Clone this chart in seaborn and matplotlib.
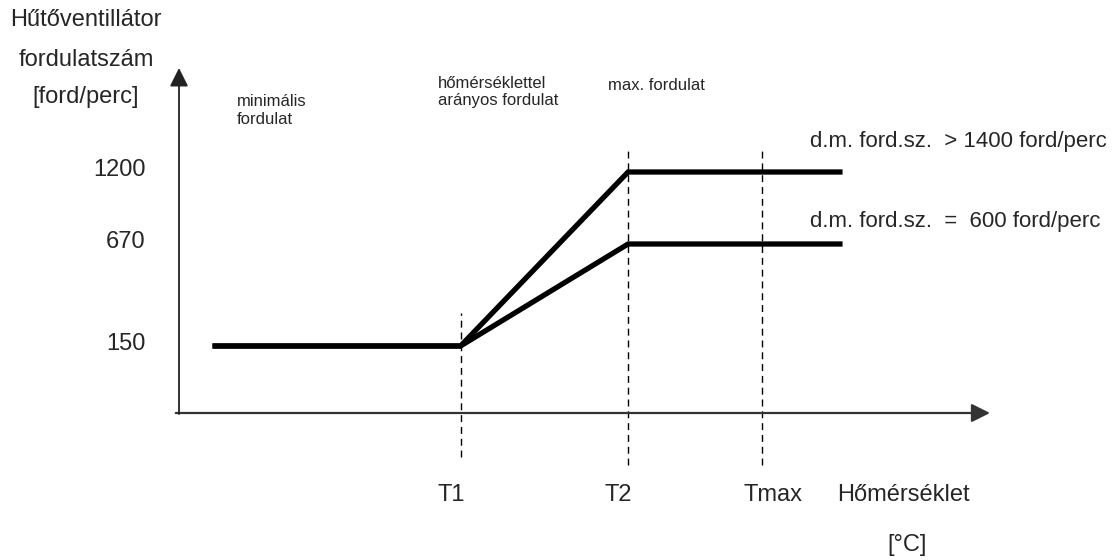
### schematic: cooling fan speed vs. coolant temperature

import matplotlib
matplotlib.use('Agg')
import matplotlib.pyplot as plt
import matplotlib.transforms as mtransforms
import numpy as np
import pandas as pd
import seaborn as sns

# schematic temperature positions (arbitrary units, origin at the y axis)
temps = [0.5, 4.2, 6.7, 9.9]           # start, T1, T2, end of curves
t_marks = {'T1': 4.2, 'T2': 6.7, 'Tmax': 8.7}
x_axis_end = 12.1

# fan speed [ford/perc] at each temperature point
speed_high = [150, 150, 1200, 1200]    # d.m. ford.sz. > 1400
speed_low = [150, 150, 670, 670]       # d.m. ford.sz. = 600
y_ticks = [150, 670, 1200]
y_top = 1500

# the drawing is not to scale: piecewise mapping of rpm to drawn height
scale_in = [0, 150, 670, 1200, 1500]
scale_out = [0, 67, 169, 241, 345]
def fwd(v):
    return np.interp(v, scale_in, scale_out)
def inv(v):
    return np.interp(v, scale_out, scale_in)

sns.set_style('white')
plt.rcParams['font.family'] = ['Liberation Sans', 'DejaVu Sans']
BIG, SMALL = 17, 12

W, H = 1116, 560
fig = plt.figure(figsize=(W / 100, H / 100), dpi=100)
# axes box: x from px 179 to 990, y from px 413 (bottom) up to 68
ax = fig.add_axes([179 / W, (H - 413) / H, (990 - 179) / W, (413 - 68) / H])
ax.set_yscale('function', functions=(fwd, inv))
ax.set_xlim(0, x_axis_end)
ax.set_ylim(0, y_top)

df = pd.DataFrame({
    'T': temps * 2,
    'n': speed_high + speed_low,
    'series': ['> 1400'] * len(temps) + ['= 600'] * len(temps),
})
sns.lineplot(data=df, x='T', y='n', units='series', estimator=None,
             color='black', lw=3.8, ax=ax, legend=False,
             solid_joinstyle='miter', solid_capstyle='butt')
ax.set_xlabel('')
ax.set_ylabel('')

# dashed verticals (extend below the x axis)
ax_h = 413 - 68
dash_ext = {'T1': (313, 457), 'T2': (150, 465), 'Tmax': (150, 465)}
for name, tx in t_marks.items():
    top, bot = dash_ext[name]
    ax.axvline(tx, ymin=(413 - bot) / ax_h, ymax=(413 - top) / ax_h,
               color='black', lw=1.0, ls=(0, (5, 3.5)), clip_on=False)

# axes as arrows
for s in ax.spines.values():
    s.set_visible(False)
ax.annotate('', xy=(1, 0), xytext=(-0.004, 0), xycoords='axes fraction',
            arrowprops=dict(arrowstyle='-|>', lw=1.6, color='#333333',
                            mutation_scale=28, shrinkA=0, shrinkB=0))
ax.annotate('', xy=(0, 1), xytext=(0, -0.003), xycoords='axes fraction',
            arrowprops=dict(arrowstyle='-|>', lw=1.3, color='#222222',
                            mutation_scale=28, shrinkA=0, shrinkB=0))

# y ticks
ax.set_xticks([])
ax.set_yticks(y_ticks)
ax.set_yticklabels([str(v) for v in y_ticks], fontsize=BIG)
ax.yaxis.set_minor_locator(matplotlib.ticker.NullLocator())
ax.tick_params(axis='y', length=0, pad=24)
for lbl in ax.get_yticklabels():
    lbl.set_transform(lbl.get_transform() + mtransforms.ScaledTranslation(0, 5 / 100, fig.dpi_scale_trans))

# x marks under the axis
xoff = {'T1': -9, 'T2': -10, 'Tmax': 11}
for name, tx in t_marks.items():
    ax.annotate(name, xy=(tx, 0), xycoords=('data', 'axes fraction'),
                xytext=(xoff[name] * 0.72, -82 * 0.72), textcoords='offset points',
                ha='center', va='center', fontsize=BIG)

# axis titles
fig.text(86 / W, 1 - 20 / H, 'Hűtőventillátor', ha='center', va='center', fontsize=BIG)
fig.text(86 / W, 1 - 60 / H, 'fordulatszám', ha='center', va='center', fontsize=BIG)
fig.text(86 / W, 1 - 97 / H, '[ford/perc]', ha='center', va='center', fontsize=BIG)
fig.text(903 / W, 1 - 495 / H, 'Hőmérséklet', ha='center', va='center', fontsize=BIG)
fig.text(907 / W, 1 - 545 / H, '[°C]', ha='center', va='center', fontsize=BIG)

# region labels
fig.text(237 / W, 1 - 102 / H, 'minimális', ha='left', va='center', fontsize=SMALL)
fig.text(237 / W, 1 - 119 / H, 'fordulat', ha='left', va='center', fontsize=SMALL)
fig.text(438 / W, 1 - 83 / H, 'hőmérséklettel', ha='left', va='center', fontsize=SMALL)
fig.text(438 / W, 1 - 101 / H, 'arányos fordulat', ha='left', va='center', fontsize=SMALL)
fig.text(608 / W, 1 - 85 / H, 'max. fordulat', ha='left', va='center', fontsize=SMALL)

# curve labels
fig.text(810 / W, 1 - 142 / H, 'd.m. ford.sz.  > 1400 ford/perc', ha='left', va='center', fontsize=16)
fig.text(810 / W, 1 - 222 / H, 'd.m. ford.sz.  =  600 ford/perc', ha='left', va='center', fontsize=16)

fig.savefig('out.png', dpi=100)
